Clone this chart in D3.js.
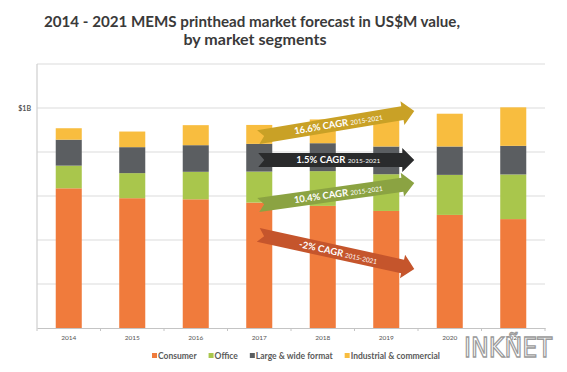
<!DOCTYPE html>
<html>
<head>
<meta charset="utf-8">
<script src="https://cdn.jsdelivr.net/npm/d3@7"></script>
<style>
  body { margin: 0; background: #fff; }
  svg { display: block; font-family: Lato, "Open Sans", sans-serif; }
</style>
</head>
<body>
<div class="d3-container"></div>
<script>
// values in US$M
const years = ["2014", "2015", "2016", "2017", "2018", "2019", "2020", "2021"];
const segments = ["Consumer", "Office", "Large & wide format", "Industrial & commercial"];
const consumer   = [635, 590, 585, 570, 555, 532, 514, 495];
const office     = [103, 114, 125, 141, 158, 167, 182, 203];
const largeWide  = [118, 118, 121, 126, 127, 126, 129, 130];
const industrial = [52, 71, 91, 86, 108, 130, 149, 175];
const yTicks = [0, 200, 400, 600, 800, 1000, 1200];
const yTickLabels = ["", "", "", "", "", "$1B", ""];

// CAGR call-outs: start at 2017, end past 2019, heights in US$M
const cagrLabels = ["16.6% CAGR", "1.5% CAGR", "10.4% CAGR", "-2% CAGR"];
const cagrPeriod = "2015-2021";
const cagrFrom = [868, 764, 559, 423];
const cagrTo   = [986, 764, 659, 268];

const colors = ["#f07b3c", "#a9c64c", "#5b5e61", "#f8bd3f"];
const arrowColors = ["#c9a126", "#2a2b2c", "#8ba342", "#c5552c"];

const W = 567, H = 372;
const margin = { top: 64, right: 22, bottom: 44, left: 37 };

const svg = d3.select(".d3-container").append("svg")
    .attr("width", W).attr("height", H);

// title
const title = svg.append("g").attr("fill", "#3a3a3a").attr("font-weight", "bold")
    .attr("text-anchor", "middle").attr("font-size", 15.5);
title.append("text").attr("x", 252).attr("y", 27)
    .attr("textLength", 416).attr("lengthAdjust", "spacingAndGlyphs")
    .text("2014 - 2021 MEMS printhead market forecast in US$M value,");
title.append("text").attr("x", 255).attr("y", 45)
    .attr("textLength", 143).attr("lengthAdjust", "spacingAndGlyphs")
    .text("by market segments");

const x = d3.scaleBand().domain(years)
    .range([margin.left, W - margin.right])
    .paddingInner(0.59).paddingOuter(0.295);
const y = d3.scaleLinear().domain([0, 1200]).range([H - margin.bottom, margin.top]);

// grid
svg.append("g").selectAll("line").data(yTicks.slice(1)).join("line")
    .attr("x1", margin.left).attr("x2", W - margin.right)
    .attr("y1", d => y(d)).attr("y2", d => y(d))
    .attr("stroke", "#dcdcdc").attr("stroke-width", 1.2);

svg.append("line")
    .attr("x1", margin.left).attr("x2", margin.left)
    .attr("y1", y(0)).attr("y2", y(1200))
    .attr("stroke", "#cfcfcf").attr("stroke-width", 1.2);

const yAxis = svg.append("g").attr("transform", `translate(${margin.left - 3},0)`)
    .call(d3.axisLeft(y).tickValues(yTicks).tickSize(0).tickFormat((d, i) => yTickLabels[i]));
yAxis.select(".domain").remove();
yAxis.selectAll("text").attr("fill", "#555").attr("font-size", 7).attr("font-weight", "bold")
    .attr("font-family", "Lato, sans-serif");

// stacked bars
const table = years.map((yr, i) => ({
    year: yr, Consumer: consumer[i], Office: office[i],
    "Large & wide format": largeWide[i], "Industrial & commercial": industrial[i]
}));
const stacked = d3.stack().keys(segments)(table);

svg.append("g").selectAll("g").data(stacked).join("g")
    .attr("fill", (d, i) => colors[i])
    .selectAll("rect").data(d => d).join("rect")
    .attr("x", d => x(d.data.year))
    .attr("y", d => y(d[1]))
    .attr("width", x.bandwidth())
    .attr("height", d => y(d[0]) - y(d[1]));

// x axis
const xAxis = svg.append("g").attr("transform", `translate(0,${y(0)})`)
    .call(d3.axisBottom(x).tickSize(0).tickPadding(7));
xAxis.select(".domain").attr("stroke", "#c4c4c4").attr("stroke-width", 1.2);
xAxis.selectAll("text").attr("fill", "#555").attr("font-size", 6.5)
    .attr("font-family", "Lato, sans-serif");
svg.append("g").selectAll("line").data(d3.range(years.length + 1)).join("line")
    .attr("x1", i => x.range()[0] + i * x.step()).attr("x2", i => x.range()[0] + i * x.step())
    .attr("y1", y(0)).attr("y2", y(0) + 3)
    .attr("stroke", "#c4c4c4");

// CAGR arrows
const x0 = x("2017") + x.bandwidth() / 2 - 1;
const x1 = x("2019") + x.bandwidth() + 15;
const bh = 7, hh = 12, hl = 12, notch = 6;
cagrLabels.forEach((lab, i) => {
    const ax = x0, ay = y(cagrFrom[i]);
    const bx = x1, by = y(cagrTo[i]);
    const len = Math.hypot(bx - ax, by - ay);
    const ang = Math.atan2(by - ay, bx - ax) * 180 / Math.PI;
    const g = svg.append("g").attr("transform", `translate(${ax},${ay}) rotate(${ang})`);
    const pts = [[0, -bh], [len - hl, -bh], [len - hl, -hh], [len, 0],
                 [len - hl, hh], [len - hl, bh], [0, bh], [notch, 0]];
    g.append("path").attr("d", d3.line()(pts) + "Z").attr("fill", arrowColors[i]);
    const t = g.append("text").attr("x", len / 2 + 2).attr("y", 3.3)
        .attr("text-anchor", "middle").attr("fill", "#fff");
    t.append("tspan").attr("font-size", 9.5).attr("font-weight", "bold").text(lab + " ");
    t.append("tspan").attr("font-size", 6.5).text(cagrPeriod);
});

// legend
const legend = svg.append("g").attr("transform", "translate(152,359)");
let lx = 0;
segments.forEach((s, i) => {
    const item = legend.append("g").attr("transform", `translate(${lx},0)`);
    item.append("rect").attr("x", 0).attr("y", -6).attr("width", 5).attr("height", 5)
        .attr("fill", colors[i]);
    const tx = item.append("text").attr("x", 6).attr("y", 0)
        .attr("font-size", 8.5).attr("font-weight", "bold").attr("fill", "#5a5a5a").text(s);
    lx += 6 + tx.node().getComputedTextLength() + 12;
});

// watermark
svg.append("text").attr("x", 464).attr("y", 357)
    .attr("textLength", 88).attr("lengthAdjust", "spacingAndGlyphs")
    .attr("font-family", "'DejaVu Sans', sans-serif").attr("font-size", 26)
    .attr("fill", "#fff").attr("fill-opacity", 0.85)
    .attr("stroke", "#9a9a9a").attr("stroke-width", 1.3)
    .text("INKÑET");
</script>
</body>
</html>
